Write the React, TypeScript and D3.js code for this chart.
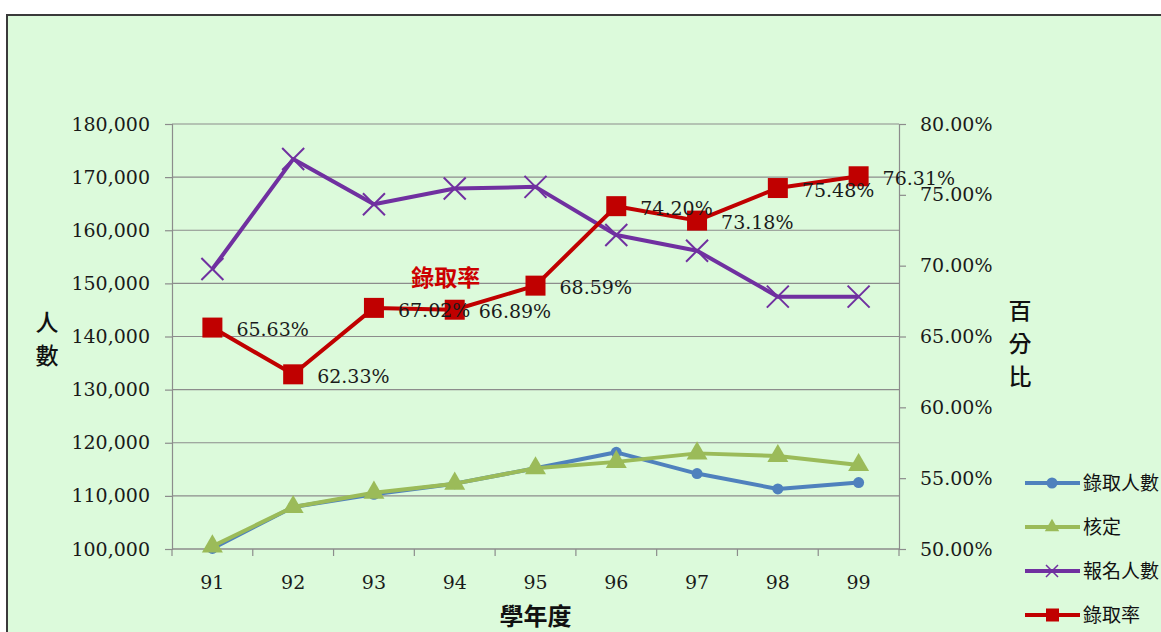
import React, { useEffect, useRef } from 'react';
import * as d3 from 'd3';

// chart data
const years = ['91', '92', '93', '94', '95', '96', '97', '98', '99'];
const admitted = [100100, 107900, 110300, 112300, 115200, 118200, 114200, 111300, 112500];
const approved = [100500, 107900, 110600, 112300, 115200, 116400, 118000, 117500, 115800];
const applicants = [152700, 173400, 164900, 167850, 168170, 159100, 156150, 147500, 147500];
const admitRate = [65.63, 62.33, 67.02, 66.89, 68.59, 74.2, 73.18, 75.48, 76.31];
const leftTicks = [100000, 110000, 120000, 130000, 140000, 150000, 160000, 170000, 180000];
const rightTicks = [50, 55, 60, 65, 70, 75, 80];
const legendNames = ['錄取人數', '核定', '報名人數', '錄取率'];

const NUM_FONT = '"DejaVu Serif", serif';
const CJK_FONT = '"Noto Sans CJK TC", "Noto Sans CJK SC", sans-serif';

const App = () => {
  const ref = useRef<SVGSVGElement | null>(null);

  useEffect(() => {
    const width = 1161;
    const height = 632;
    const plot = { left: 172, right: 899, top: 124, bottom: 549 };

    const svg = d3.select(ref.current);
    svg.selectAll('*').remove();
    svg.attr('width', width).attr('height', height);

    // background + frame
    svg.append('rect').attr('width', width).attr('height', height).attr('fill', '#ffffff');
    svg.append('rect')
      .attr('x', 7).attr('y', 15)
      .attr('width', width).attr('height', height)
      .attr('fill', '#dcfadb')
      .attr('stroke', '#3a3a3a')
      .attr('stroke-width', 2);

    const x = d3.scaleBand<string>().domain(years).range([plot.left, plot.right]).paddingInner(0).paddingOuter(0);
    const cx = (d: string) => (x(d) as number) + x.bandwidth() / 2;
    const yLeft = d3.scaleLinear().domain([100000, 180000]).range([plot.bottom, plot.top]);
    const yRight = d3.scaleLinear().domain([50, 80]).range([plot.bottom, plot.top]);

    const grid = '#8c8c8c';

    // horizontal gridlines
    svg.append('g')
      .selectAll('line')
      .data(leftTicks)
      .enter()
      .append('line')
      .attr('x1', plot.left).attr('x2', plot.right)
      .attr('y1', (d) => yLeft(d)).attr('y2', (d) => yLeft(d))
      .attr('stroke', grid).attr('stroke-width', 1.2);

    // left axis
    const left = svg.append('g')
      .attr('transform', `translate(${plot.left},0)`)
      .call(d3.axisLeft(yLeft).tickValues(leftTicks).tickSize(7).tickPadding(15).tickFormat(d3.format(',') as any));
    left.select('.domain').attr('stroke', grid).attr('stroke-width', 1.2);
    left.selectAll('.tick line').attr('stroke', grid).attr('stroke-width', 1.2);
    left.selectAll('.tick text')
      .attr('font-family', NUM_FONT).attr('font-size', 19).attr('fill', '#1a1a1a');

    // right axis
    const right = svg.append('g')
      .attr('transform', `translate(${plot.right},0)`)
      .call(d3.axisRight(yRight).tickValues(rightTicks).tickSize(7).tickPadding(14).tickFormat((d) => `${(+d).toFixed(2)}%`));
    right.select('.domain').attr('stroke', grid).attr('stroke-width', 1.2);
    right.selectAll('.tick line').attr('stroke', grid).attr('stroke-width', 1.2);
    right.selectAll('.tick text')
      .attr('font-family', NUM_FONT).attr('font-size', 19).attr('fill', '#1a1a1a');

    // bottom axis: boundary ticks + centred labels
    const bounds = years.map((d) => x(d) as number).concat([plot.right]);
    svg.append('line')
      .attr('x1', plot.left).attr('x2', plot.right)
      .attr('y1', plot.bottom).attr('y2', plot.bottom)
      .attr('stroke', grid).attr('stroke-width', 1.2);
    svg.append('g')
      .selectAll('line')
      .data(bounds)
      .enter()
      .append('line')
      .attr('x1', (d) => d).attr('x2', (d) => d)
      .attr('y1', plot.bottom).attr('y2', plot.bottom + 7)
      .attr('stroke', grid).attr('stroke-width', 1.2);
    svg.append('g')
      .selectAll('text')
      .data(years)
      .enter()
      .append('text')
      .attr('x', (d) => cx(d))
      .attr('y', plot.bottom + 33)
      .attr('dy', '0.35em')
      .attr('text-anchor', 'middle')
      .attr('font-family', NUM_FONT).attr('font-size', 19).attr('fill', '#1a1a1a')
      .text((d) => d);

    // axis titles
    svg.append('text')
      .attr('x', (plot.left + plot.right) / 2)
      .attr('y', 617)
      .attr('dy', '0.35em')
      .attr('text-anchor', 'middle')
      .attr('font-family', CJK_FONT).attr('font-size', 24).attr('font-weight', 700)
      .attr('fill', '#111')
      .text('學年度');

    const vertical = (label: string, xPos: number, yMid: number) => {
      const chars = label.split('');
      const step = 33;
      const y0 = yMid - ((chars.length - 1) * step) / 2;
      svg.append('g')
        .selectAll('text')
        .data(chars)
        .enter()
        .append('text')
        .attr('x', xPos)
        .attr('y', (_, i) => y0 + i * step)
        .attr('dy', '0.35em')
        .attr('text-anchor', 'middle')
        .attr('font-family', CJK_FONT).attr('font-size', 23).attr('font-weight', 500)
        .attr('fill', '#111')
        .text((d) => d);
    };
    vertical('人數', 47, 339);
    vertical('百分比', 1020, 344);

    // series lines
    const lineLeft = d3.line<number>().x((_, i) => cx(years[i])).y((d) => yLeft(d));
    const lineRight = d3.line<number>().x((_, i) => cx(years[i])).y((d) => yRight(d));

    const blue = '#4f81bd';
    const green = '#9bbb59';
    const purple = '#7030a0';
    const red = '#c00000';

    // 錄取人數
    svg.append('path').attr('d', lineLeft(admitted)).attr('fill', 'none').attr('stroke', blue).attr('stroke-width', 4).attr('stroke-linejoin', 'round');
    svg.append('g').selectAll('circle').data(admitted).enter().append('circle')
      .attr('cx', (_, i) => cx(years[i])).attr('cy', (d) => yLeft(d)).attr('r', 5.5).attr('fill', blue);

    // 核定
    const tri = d3.symbol().type(d3.symbolTriangle).size(190);
    svg.append('path').attr('d', lineLeft(approved)).attr('fill', 'none').attr('stroke', green).attr('stroke-width', 4).attr('stroke-linejoin', 'round');
    svg.append('g').selectAll('path').data(approved).enter().append('path')
      .attr('d', tri())
      .attr('transform', (d, i) => `translate(${cx(years[i])},${yLeft(d)})`)
      .attr('fill', green);

    // 報名人數
    svg.append('path').attr('d', lineLeft(applicants)).attr('fill', 'none').attr('stroke', purple).attr('stroke-width', 4).attr('stroke-linejoin', 'round');
    const crosses = svg.append('g').selectAll('g').data(applicants).enter().append('g')
      .attr('transform', (d, i) => `translate(${cx(years[i])},${yLeft(d)})`);
    crosses.append('path').attr('d', 'M-11,-11L11,11M-11,11L11,-11').attr('stroke', purple).attr('stroke-width', 2);

    // 錄取率
    svg.append('path').attr('d', lineRight(admitRate)).attr('fill', 'none').attr('stroke', red).attr('stroke-width', 4).attr('stroke-linejoin', 'round');
    svg.append('g').selectAll('rect').data(admitRate).enter().append('rect')
      .attr('x', (_, i) => cx(years[i]) - 10)
      .attr('y', (d) => yRight(d) - 10)
      .attr('width', 20).attr('height', 20)
      .attr('fill', red);

    // data labels
    svg.append('g').selectAll('text').data(admitRate).enter().append('text')
      .attr('x', (_, i) => cx(years[i]) + 24)
      .attr('y', (d) => yRight(d) + 2)
      .attr('dy', '0.35em')
      .attr('font-family', NUM_FONT).attr('font-size', 19).attr('fill', '#1a1a1a')
      .text((d) => `${d.toFixed(2)}%`);

    // series annotation
    svg.append('text')
      .attr('x', cx('94') - 9)
      .attr('y', yRight(69.1))
      .attr('dy', '0.35em')
      .attr('text-anchor', 'middle')
      .attr('font-family', CJK_FONT).attr('font-size', 23).attr('font-weight', 700)
      .attr('fill', '#cc0000')
      .text('錄取率');

    // legend
    const legendColors = [blue, green, purple, red];
    const legendY = [483, 527, 571, 615];
    const lg = svg.append('g').selectAll('g').data(legendNames).enter().append('g')
      .attr('transform', (_, i) => `translate(1025,${legendY[i]})`);
    lg.append('line').attr('x1', 0).attr('x2', 55).attr('y1', 0).attr('y2', 0)
      .attr('stroke', (_, i) => legendColors[i]).attr('stroke-width', 4);
    lg.each(function (_, i) {
      const g = d3.select(this);
      if (i === 0) g.append('circle').attr('cx', 27).attr('r', 5.5).attr('fill', blue);
      if (i === 1) g.append('path').attr('d', d3.symbol().type(d3.symbolTriangle).size(90)()).attr('transform', 'translate(27,0)').attr('fill', green);
      if (i === 2) g.append('path').attr('d', 'M-6,-6L6,6M-6,6L6,-6').attr('transform', 'translate(27,0)').attr('stroke', purple).attr('stroke-width', 1.5);
      if (i === 3) g.append('rect').attr('x', 21).attr('y', -6.5).attr('width', 13).attr('height', 13).attr('fill', red);
    });
    lg.append('text')
      .attr('x', 58).attr('y', 0).attr('dy', '0.35em')
      .attr('font-family', CJK_FONT).attr('font-size', 19).attr('fill', '#111')
      .text((d) => d);
  }, []);

  return (
    <div style={{ position: 'absolute', left: 0, top: 0 }}>
      <svg ref={ref} style={{ display: 'block' }} />
    </div>
  );
};

export default App;
